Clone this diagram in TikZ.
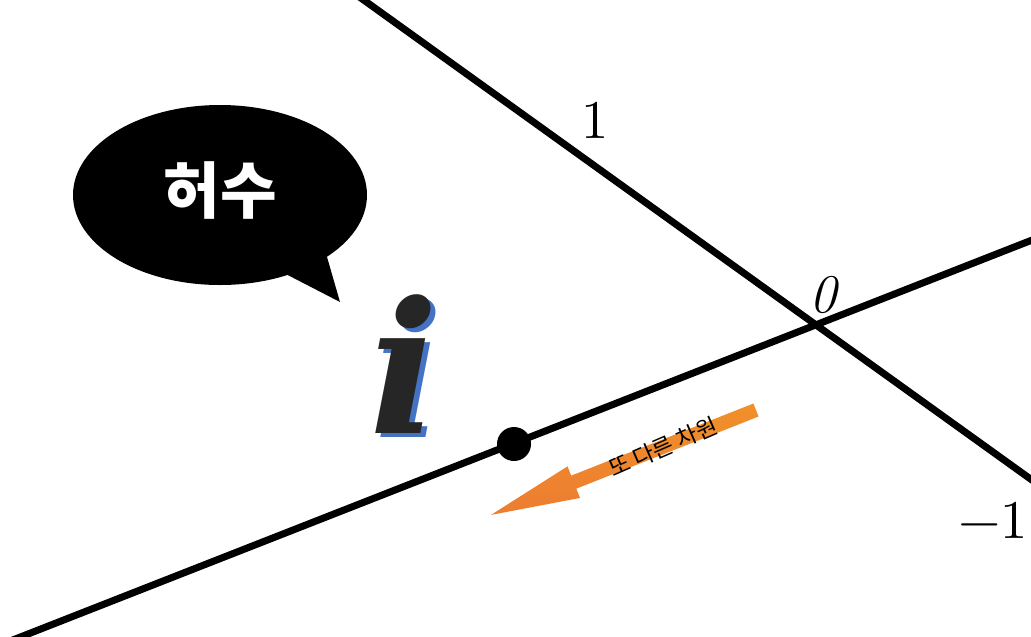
\documentclass[tikz,border=0pt]{standalone}
\usepackage{fontspec}
\usepackage{unicode-math}
\setmathfont{Latin Modern Math}
\newfontfamily\kr{Noto Sans CJK KR}
\newfontfamily\unitfont{DejaVu Serif}
\definecolor{arrorange}{HTML}{ED7D31}
\definecolor{shadowblue}{HTML}{4472C4}
\definecolor{inkgray}{HTML}{262626}

\begin{document}
\begin{tikzpicture}[x=0.02cm,y=-0.02cm]
    \useasboundingbox (0,0) rectangle (1031,636);
    \clip (0,0) rectangle (1031,636);

    % axes
    \coordinate (O) at (818,326);
    \coordinate (a1) at (340,-17);
    \coordinate (a2) at (1050,493);
    \coordinate (b1) at (0,645);
    \coordinate (b2) at (1050,233);
    \draw[line width=4pt] (a1) -- (a2);
    \draw[line width=4pt] (b1) -- (b2);
    \fill (514,444) circle (17);

    % labels
    \node (one) at (595,120) {\fontsize{31}{31}\selectfont$1$};
    \node (zero) at (824,295) {\fontsize{31}{31}\selectfont\textit{0}};
    \node (minusone) at (993,520) {\fontsize{31}{31}\selectfont$-1$};

    % speech bubble
    \fill (220,195) ellipse [x radius=147, y radius=90];
    \fill (278,270) -- (340,302) -- (325,250) -- cycle;
    \node[text=white] (bubble) at (220,190) {\kr\bfseries\fontsize{35}{35}\selectfont 허수};

    % the imaginary unit with its shadow
    \node[text=shadowblue, anchor=base, inner sep=0] at (409,437)
      {\unitfont\bfseries\itshape\fontsize{104}{104}\selectfont i};
    \node[text=inkgray, anchor=base, inner sep=0] (unit) at (404,433)
      {\unitfont\bfseries\itshape\fontsize{104}{104}\selectfont i};

    % orange arrow
    \begin{scope}[shift={(756,410)}, rotate=201.6]
      \shade[top color=arrorange!85!yellow, bottom color=arrorange, draw=none]
        (0,-7) -- (196,-7) -- (196,-17) -- (285,0) -- (196,17) -- (196,7) -- (0,7) -- cycle;
    \end{scope}
    \node[rotate=23.5, inner sep=0] (dim) at (663,447)
      {\kr\fontsize{13}{13}\selectfont 또 다른 차원};
\end{tikzpicture}
\end{document}
